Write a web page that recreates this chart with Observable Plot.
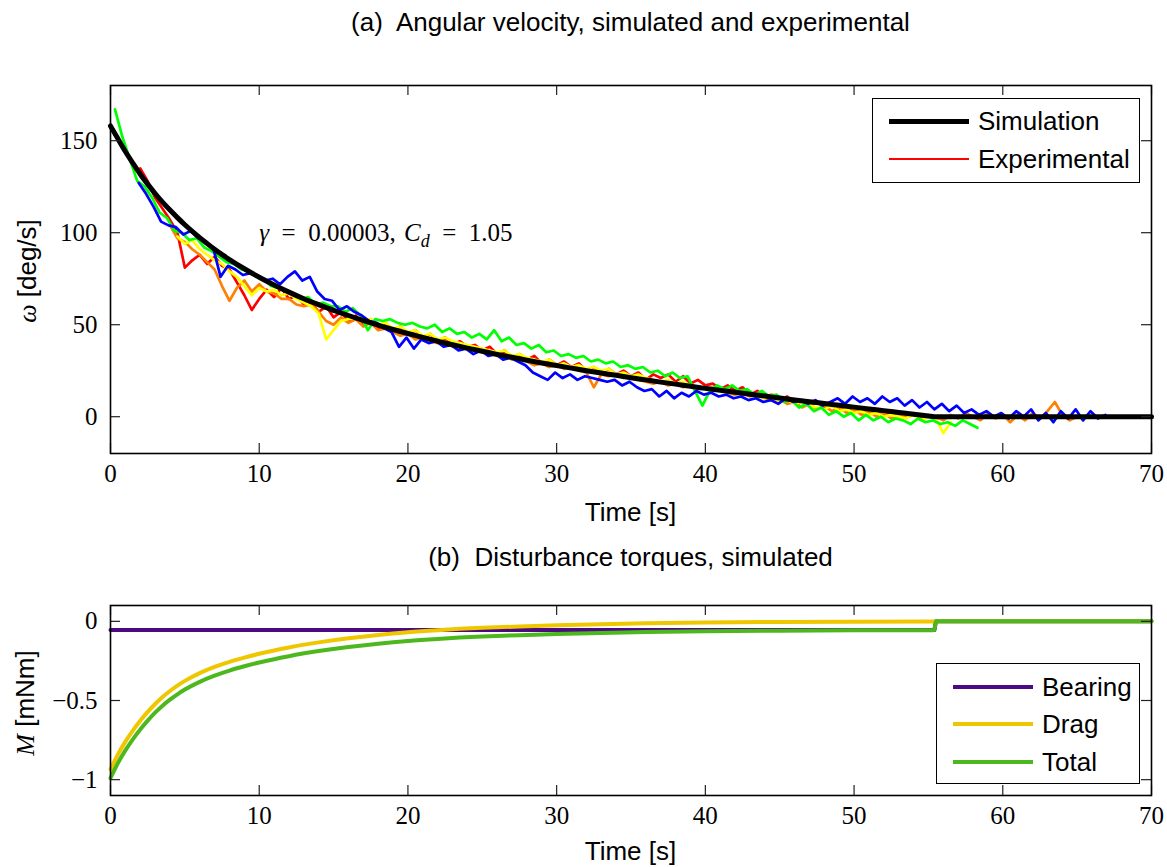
<!DOCTYPE html>
<html><head><meta charset="utf-8">
<script src="https://cdn.jsdelivr.net/npm/d3@7"></script>
<script src="https://cdn.jsdelivr.net/npm/@observablehq/plot@0.6"></script>
<style>
body{margin:0;background:#fff;}
#root{position:relative;width:1167px;height:867px;overflow:hidden;font-family:"Liberation Sans",Arial,sans-serif;color:#000;background:#fff;}
#root svg{position:absolute;left:0;}
.lbl{position:absolute;font-size:26px;white-space:nowrap;line-height:1;transform:translate(-50%,-50%);}
.ylbl{position:absolute;font-size:26px;white-space:nowrap;line-height:1;transform:translate(-50%,-50%) rotate(-90deg);}
.math{font-family:"Liberation Serif",serif;font-style:italic;}
.legend{position:absolute;box-sizing:border-box;border:1.4px solid #000;background:#fff;}
.legend .sw{position:absolute;}
.legend .tx{position:absolute;font-size:26px;line-height:1;white-space:nowrap;transform:translateY(-50%);}
</style></head><body><div id="root"></div><script>
// ---------- data ----------
const xTicks = [0, 10, 20, 30, 40, 50, 60, 70];
const omegaTicks = [0, 50, 100, 150];
const torqueTicks = [-1, -0.5, 0];
const torqueTickLabels = ["\u22121", "\u22120.5", "0"];

const simTime = [0,0.5,1,1.5,2,2.5,3,3.5,4,4.5,5,5.5,6,6.5,7,7.5,8,9,10,11,12,13,14,15,16,17,18,19,20,21,22,23,24,25,26,27,28,29,30,31,32,33,34,35,36,37,38,39,40,41,42,43,44,45,46,47,48,49,50,51,52,53,54,55,55.4,70];
const simOmega = [158,151,144.1,137.8,131.8,126.4,121.3,116.6,112.3,108.2,104.3,100.7,97.3,94.1,91.0,88.1,85.4,80.4,75.8,71.6,67.7,64.1,60.9,57.8,55.0,52.3,49.8,47.4,45.2,43.1,41.0,39.1,37.3,35.6,33.9,32.3,30.7,29.2,27.8,26.4,25.0,23.7,22.5,21.2,20.0,18.8,17.7,16.5,15.4,14.3,13.3,12.2,11.2,10.2,9.1,8.1,7.2,6.2,5.2,4.2,3.3,2.3,1.3,0.4,0,0];

const expStep = 0.5;
const redStart = 2.0;
const redOmega = [135,128,119,113,107,100,81,85,88,83,87,82,80,73,66,58,64,69,65,70,64,66,61,62,57,60,54,57,52,55,50,53,48,50,47,49,45,47,43,45,41,43,39,41,38,39,36,38,34,36,32,34,31,33,29,31,28,30,27,29,25,27,24,26,23,25,22,24,20,23,21,23,19,22,18,20,17,18,15,17,14,16,12,14,11,12,9,11,8,9,6,8,5,7,4,6,3,4,2,3,1,2,0];
const orangeStart = 4.0;
const orangeOmega = [104,97,95,91,88,84,80,71,63,70,74,68,72,68,67,64,64,61,60,61,57,52,50,54,51,53,49,51,47,48,46,44,45,42,43,41,40,41,38,39,37,36,35,34,33,34,31,32,30,28,29,27,28,26,27,25,24,16,23,22,23,21,22,20,19,18,19,17,18,16,17,15,16,14,15,13,12,13,11,12,10,9,10,7,8,5,7,4,6,3,5,2,4,1,3,0,2,-1,1,0,2,-1,1,0,-2,1,-1,2,0,-2,2,-1,1,-3,1,-2,2,-1,3,8,1,-2,0];
const yellowStart = 4.5;
const yellowOmega = [98,94,96,91,88,85,83,79,76,71,66,70,68,69,66,67,64,62,60,56,42,47,52,53,54,52,53,50,51,48,49,46,47,44,45,42,43,41,40,39,38,37,36,35,36,33,34,32,31,30,31,28,29,27,28,26,27,25,26,23,24,22,23,21,20,19,20,18,19,17,16,15,16,14,15,13,14,12,11,10,12,8,9,7,8,6,5,4,6,3,4,2,3,1,2,0,1,0,-1,1,-2,0,-1,-9,-3];
const greenStart = 0.3;
const greenOmega = [167,152,140,128,125,119,111,108,101,100,96,97,92,90,87,84,83,80,79,76,75,71,70,68,67,64,65,61,62,60,60,57,59,55,47,53,52,53,51,50,51,49,48,50,46,48,45,46,43,45,42,47,41,43,39,40,37,39,35,36,33,34,32,33,30,31,29,30,27,28,26,27,24,25,22,24,21,22,14,6,14,17,15,17,14,15,12,14,11,12,8,9,5,7,3,5,1,3,0,2,-2,1,-2,0,-3,-1,-2,-4,-1,-3,-2,-4,-3,-5,-2,-4,-6];
const blueStart = 1.9;
const blueOmega = [127,121,114,106,104,103,99,101,97,95,92,76,82,80,77,78,76,74,75,72,76,79,74,76,68,64,63,58,60,57,55,52,51,48,46,38,43,37,42,40,41,38,39,36,37,34,36,33,34,31,32,30,28,24,22,20,24,21,23,20,22,21,20,19,20,17,19,16,14,15,11,14,10,13,11,14,12,13,11,12,10,11,9,10,8,9,7,10,8,9,7,9,6,8,10,7,11,8,10,7,11,8,10,6,9,5,8,4,7,3,6,2,4,1,3,0,2,-1,3,0,4,-2,2,-3,3,-1,4,-2,3,-1,1];

const torqueTime = [0,0.5,1,1.5,2,2.5,3,3.5,4,4.5,5,6,7,8,9,10,12,14,16,18,20,22,25,28,30,33,36,40,45,50,55.4,55.5,70];
const bearingTorque = [-0.055,-0.055,-0.055,-0.055,-0.055,-0.055,-0.055,-0.055,-0.055,-0.055,-0.055,-0.055,-0.055,-0.055,-0.055,-0.055,-0.055,-0.055,-0.055,-0.055,-0.055,-0.055,-0.055,-0.055,-0.055,-0.055,-0.055,-0.055,-0.055,-0.055,-0.055,0,0];
const dragTorque = [-0.935,-0.84,-0.76,-0.69,-0.628,-0.572,-0.522,-0.478,-0.44,-0.406,-0.376,-0.327,-0.288,-0.256,-0.229,-0.205,-0.165,-0.133,-0.107,-0.086,-0.069,-0.056,-0.041,-0.031,-0.025,-0.018,-0.012,-0.007,-0.004,-0.002,-0.0005,0,0];
const totalTorque = [-0.99,-0.895,-0.815,-0.745,-0.683,-0.627,-0.577,-0.533,-0.495,-0.461,-0.431,-0.382,-0.343,-0.311,-0.284,-0.26,-0.22,-0.188,-0.162,-0.141,-0.124,-0.111,-0.096,-0.086,-0.08,-0.073,-0.067,-0.062,-0.059,-0.057,-0.0555,0,0];

const annotation = {t: 10, w: 100};
const annotParts = [["γ","i"],["\u2002=\u20020.00003,\u2004",""],["C","i"],["d","sub"],["\u2002=\u20021.05",""]];

// ---------- build ----------
const root = document.getElementById("root");
const serif = '"Liberation Serif","DejaVu Serif",serif';
const tickLen = 10;

function expRows(start, vals){ return vals.map((w,i)=>({t: start + i*expStep, w})); }
const simRows = simTime.map((t,i)=>({t, w: simOmega[i]}));
const torqueRows = key => torqueTime.map((t,i)=>({t, v: key[i]}));

const W = 1167;
const mL = 110, mR = 16;
const frameW = W - mL - mR;

// top plot
const tH = 530, tMT = 85, tMB = 77, tFH = tH - tMT - tMB;
const expColors = [["#ff0000", redStart, redOmega],["#ff8000", orangeStart, orangeOmega],["#ffff00", yellowStart, yellowOmega],["#00ff00", greenStart, greenOmega],["#0000ff", blueStart, blueOmega]];
const topPlot = Plot.plot({
  width: W, height: tH, marginLeft: mL, marginRight: mR, marginTop: tMT, marginBottom: tMB,
  style: {fontFamily: serif, fontSize: "25px", color: "#000", background: "transparent", overflow: "visible"},
  x: {domain: [0, 70]},
  y: {domain: [-20, 180]},
  marks: [
    Plot.axisX({ticks: xTicks, tickSize: 0, tickPadding: 11, label: null, fontSize: 25}),
    Plot.axisY({ticks: omegaTicks, tickSize: 0, tickPadding: 13, label: null, fontSize: 25}),
    ...expColors.map(([c, s, v]) => Plot.line(expRows(s, v), {x: "t", y: "w", stroke: c, strokeWidth: 2.7, strokeLinejoin: "round"})),
    Plot.line(simRows, {x: "t", y: "w", stroke: "#000", strokeWidth: 5, curve: "monotone-x"}),
    Plot.text([annotation], {x: "t", y: "w", text: () => annotParts.map(p=>p[0]).join(""), textAnchor: "start", fontSize: 25, fontFamily: serif, fill: "#000"}),
    Plot.tickX(xTicks, {x: d => d, insetTop: tFH - tickLen, stroke: "#222", strokeWidth: 1.2}),
    Plot.tickX(xTicks, {x: d => d, insetBottom: tFH - tickLen, stroke: "#222", strokeWidth: 1.2}),
    Plot.tickY(omegaTicks, {y: d => d, insetLeft: frameW - tickLen, stroke: "#222", strokeWidth: 1.2}),
    Plot.tickY(omegaTicks, {y: d => d, insetRight: frameW - tickLen, stroke: "#222", strokeWidth: 1.2}),
    Plot.frame({stroke: "#000", strokeWidth: 1.6})
  ]
});
topPlot.style.top = "0px";
root.appendChild(topPlot);

// rich annotation text
const annotText = annotParts.map(p=>p[0]).join("");
d3.select(topPlot).selectAll("text").filter(function(){ return this.textContent === annotText; }).each(function(){
  const t = d3.select(this);
  t.text("");
  let shift = 0;
  annotParts.forEach(([s, k]) => {
    const sp = t.append("tspan").text(s);
    if (k === "i") sp.attr("font-style", "italic");
    if (k === "sub") { sp.attr("font-style", "italic").attr("font-size", 18).attr("dy", 6); shift = 6; }
    else if (shift) { sp.attr("dy", -shift); shift = 0; }
  });
});

// bottom plot
const bTop = 530, bH = 337, bMT = 75, bMB = 72, bFH = bH - bMT - bMB;
const bottomPlot = Plot.plot({
  width: W, height: bH, marginLeft: mL, marginRight: mR, marginTop: bMT, marginBottom: bMB,
  style: {fontFamily: serif, fontSize: "25px", color: "#000", background: "transparent", overflow: "visible"},
  x: {domain: [0, 70]},
  y: {domain: [-1.1, 0.1]},
  marks: [
    Plot.axisX({ticks: xTicks, tickSize: 0, tickPadding: 11, label: null, fontSize: 25}),
    Plot.axisY({ticks: torqueTicks, tickFormat: d => torqueTickLabels[torqueTicks.indexOf(d)], tickSize: 0, tickPadding: 13, label: null, fontSize: 25}),
    Plot.line(torqueRows(bearingTorque), {x: "t", y: "v", stroke: "#4b0a82", strokeWidth: 4}),
    Plot.line(torqueRows(dragTorque), {x: "t", y: "v", stroke: "#efc700", strokeWidth: 4, curve: "monotone-x"}),
    Plot.line(torqueRows(totalTorque), {x: "t", y: "v", stroke: "#4db81e", strokeWidth: 4, curve: "monotone-x"}),
    Plot.tickX(xTicks, {x: d => d, insetTop: bFH - tickLen, stroke: "#222", strokeWidth: 1.2}),
    Plot.tickX(xTicks, {x: d => d, insetBottom: bFH - tickLen, stroke: "#222", strokeWidth: 1.2}),
    Plot.tickY(torqueTicks, {y: d => d, insetLeft: frameW - tickLen, stroke: "#222", strokeWidth: 1.2}),
    Plot.tickY(torqueTicks, {y: d => d, insetRight: frameW - tickLen, stroke: "#222", strokeWidth: 1.2}),
    Plot.frame({stroke: "#000", strokeWidth: 1.6})
  ]
});
bottomPlot.style.top = bTop + "px";
root.appendChild(bottomPlot);

// ---------- html text ----------
function addDiv(cls, html, x, y){
  const d = document.createElement("div");
  d.className = cls; d.innerHTML = html;
  d.style.left = x + "px"; d.style.top = y + "px";
  root.appendChild(d); return d;
}
const cx = mL + frameW / 2;
addDiv("lbl", "(a)&nbsp; Angular velocity, simulated and experimental", cx, 22);
addDiv("lbl", "Time [s]", cx, 512);
addDiv("lbl", "(b)&nbsp; Disturbance torques, simulated", cx, 557);
addDiv("lbl", "Time [s]", cx, 851);
addDiv("ylbl", '<span class="math">ω</span> [deg/s]', 27, 271);
addDiv("ylbl", '<span class="math">M</span> [mNm]', 25, 703);

function legend(x, y, w, h, items){
  const L = document.createElement("div");
  L.className = "legend";
  Object.assign(L.style, {left: x+"px", top: y+"px", width: w+"px", height: h+"px"});
  items.forEach(([label, color, lw, cy]) => {
    const s = document.createElement("div"); s.className = "sw";
    Object.assign(s.style, {left: "16px", top: (cy - lw/2) + "px", width: "80px", height: lw + "px", background: color});
    L.appendChild(s);
    const t = document.createElement("div"); t.className = "tx"; t.textContent = label;
    Object.assign(t.style, {left: "105px", top: cy + "px"});
    L.appendChild(t);
  });
  root.appendChild(L);
}
legend(872, 98, 268, 85, [["Simulation", "#000", 5, 22], ["Experimental", "#ff0000", 2, 60]]);
legend(936, 663, 204, 121, [["Bearing", "#4b0a82", 4, 23], ["Drag", "#efc700", 4, 60], ["Total", "#4db81e", 4, 98]]);
</script></body></html>
